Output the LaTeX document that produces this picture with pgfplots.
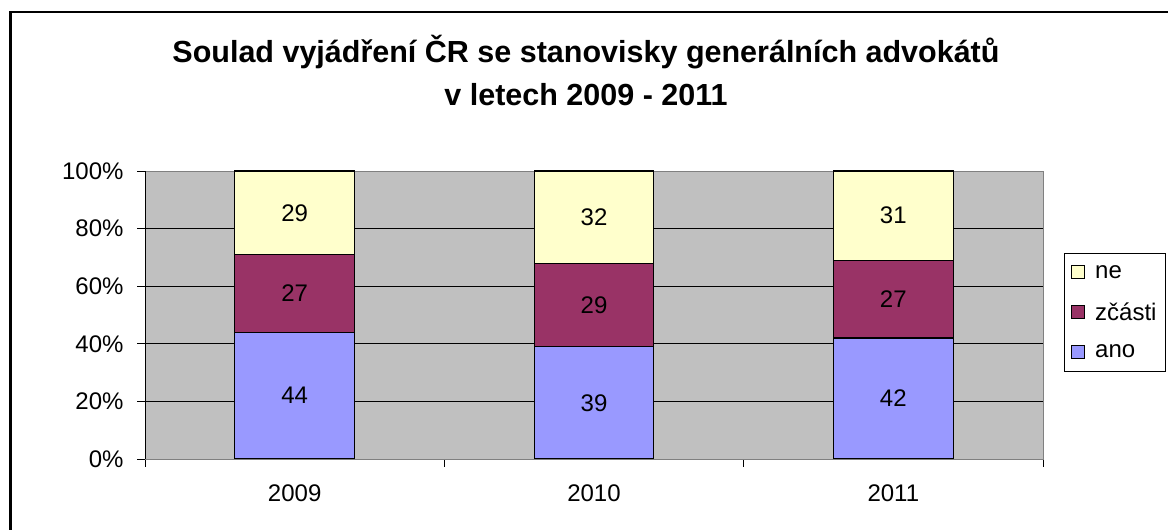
\documentclass[border=0pt]{standalone}
\usepackage{fontspec}
\setmainfont{Liberation Sans}
\usepackage{pgfplots}
\pgfplotsset{compat=1.18}

\definecolor{ano}{HTML}{9999FF}
\definecolor{zcasti}{HTML}{993366}
\definecolor{ne}{HTML}{FFFFCC}
\definecolor{plotgray}{HTML}{C0C0C0}
\definecolor{framegray}{HTML}{808080}

\newcommand{\ticksize}{\fontsize{24}{28}\selectfont}

\begin{document}
\begin{tikzpicture}[x=1pt,y=1pt]
\clip (0,0) rectangle (1168,530);
\draw[line width=2.5pt] (10.5,518) rectangle (1220,-30);

\node[font=\fontsize{30.5}{36}\selectfont\bfseries] at (586,478) {Soulad vyjádření ČR se stanovisky generálních advokátů};
\node[font=\fontsize{30.5}{36}\selectfont\bfseries] at (586,435) {v letech 2009 - 2011};

\begin{axis}[
  at={(145pt,71pt)}, anchor=south west,
  scale only axis, width=898pt, height=288pt,
  ybar stacked, bar width=0.4,
  xmin=-0.5, xmax=2.5, ymin=0, ymax=100,
  xtick={0,1,2}, xticklabels={2009,2010,2011},
  minor xtick={-0.5,0.5,1.5,2.5},
  major x tick style={draw=none},
  minor tick style={black, line width=0.8pt},
  ytick={0,20,40,60,80,100},
  yticklabels={0\%,20\%,40\%,60\%,80\%,100\%},
  major y tick style={black, line width=0.8pt},
  ymajorgrids, grid style={black, line width=0.8pt},
  tick align=outside, xtick pos=bottom, ytick pos=left,
  major tick length=8pt, minor tick length=8pt,
  axis background/.style={fill=plotgray},
  axis line style={draw=framegray, line width=0.8pt},
  tick label style={font=\ticksize},
  xticklabel style={yshift=-14pt},
  yticklabel style={xshift=-10pt},
  legend style={at={(1.0234,0.715)}, anchor=north west, draw=black,
    line width=0.8pt, font=\ticksize, row sep=19pt, inner xsep=7pt, inner ysep=10pt,
    legend cell align=left,
    /tikz/every odd column/.append style={column sep=8pt}},
  reverse legend,
  legend image code/.code={\draw[#1, draw=black, line width=0.8pt] (0pt,-6pt) rectangle (13pt,7pt);},
]
\addplot[fill=ano, draw=black, line width=1.1pt] coordinates {(0,44) (1,39) (2,42)};
\addlegendentry{ano}
\addplot[fill=zcasti, draw=black, line width=1.1pt] coordinates {(0,27) (1,29) (2,27)};
\addlegendentry{zčásti}
\addplot[fill=ne, draw=black, line width=1.1pt] coordinates {(0,29) (1,32) (2,31)};
\addlegendentry{ne}
\draw[black, line width=0.8pt] (rel axis cs:0,0) -- (rel axis cs:0,1);
\draw[black, line width=0.8pt] (rel axis cs:0,0) -- (rel axis cs:1,0);
\end{axis}

\begin{axis}[
  at={(145pt,71pt)}, anchor=south west,
  scale only axis, width=898pt, height=288pt,
  xmin=-0.5, xmax=2.5, ymin=0, ymax=100,
  hide axis,
  nodes near coords, point meta=explicit symbolic,
  nodes near coords align=center,
  every node near coord/.append style={font=\ticksize, anchor=center},
]
\addplot[draw=none, mark=none] coordinates {
  (0,22) [44] (1,19.5) [39] (2,21) [42]
  (0,57.5) [27] (1,53.5) [29] (2,55.5) [27]
  (0,85.5) [29] (1,84) [32] (2,84.5) [31]
};
\end{axis}
\end{tikzpicture}
\end{document}
